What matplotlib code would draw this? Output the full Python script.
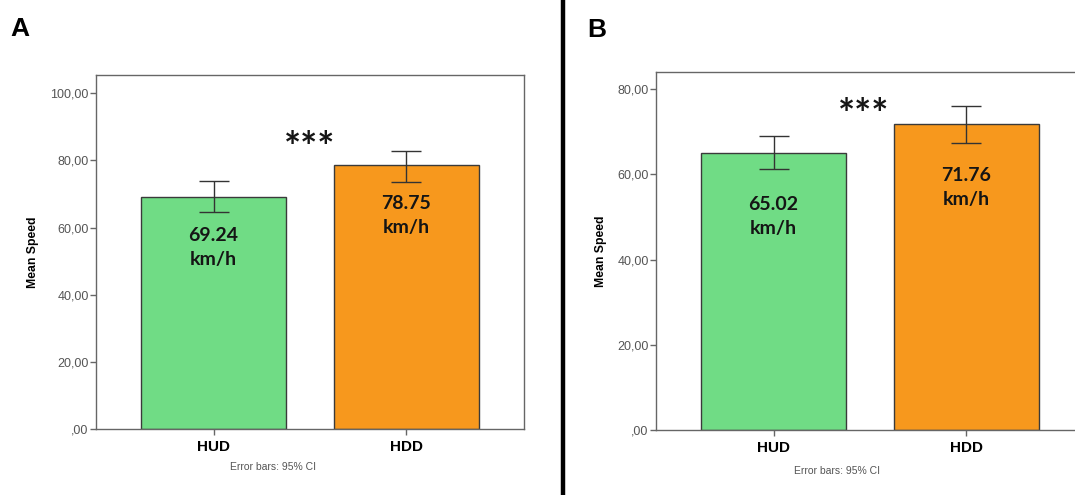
import numpy as np
import matplotlib.pyplot as plt
from matplotlib.ticker import FuncFormatter
from matplotlib.lines import Line2D

# Data
groups = ["HUD", "HDD"]
means_a = [69.24, 78.75]
ci_low_a = [64.7, 73.6]
ci_high_a = [73.9, 82.8]
means_b = [65.02, 71.76]
ci_low_b = [61.2, 67.3]
ci_high_b = [68.9, 76.1]
bar_colors = ["#70DC85", "#F7981D"]

def fmt(v, pos):
    s = f"{v:.2f}".replace(".", ",")
    if s.startswith("0"):
        s = s[1:]
    return s

def panel(fig, rect, means, lo, hi, ylim, yticks, star_xy, txt_off, lab_x, note_xy):
    ax = fig.add_axes(rect)
    x = np.arange(len(groups))
    means = np.array(means)
    yerr = [means - np.array(lo), np.array(hi) - means]
    ax.bar(x, means, width=0.75, color=bar_colors, edgecolor="#3a3a3a", linewidth=1.0, zorder=2)
    ax.errorbar(x, means, yerr=yerr, fmt="none", ecolor="#333333", elinewidth=1.0,
                capsize=10.5, capthick=1.0, zorder=3)
    for xi, m in zip(x, means):
        ax.annotate(f"{m:.2f}\nkm/h", (xi, m), xytext=(0, txt_off), textcoords="offset points",
                    ha="center", va="top", fontsize=14, fontweight="bold",
                    family="Lato", color="#151515", linespacing=1.5)
    ax.text(star_xy[0], star_xy[1], "***", ha="center", va="center", fontsize=29,
            fontweight="bold", family="Lato", color="#151515")
    ax.set_xlim(-0.61, 1.61)
    ax.set_ylim(*ylim)
    ax.set_yticks(yticks)
    ax.yaxis.set_major_formatter(FuncFormatter(fmt))
    ax.set_xticks(x)
    ax.set_xticklabels(groups, fontsize=11, fontweight="bold", family="Liberation Sans")
    ax.tick_params(axis="y", length=4.3, width=1, color="#666666", pad=1,
                   labelsize=9, labelcolor="#555555")
    ax.tick_params(axis="x", length=4, width=1, color="#666666", pad=4)
    for t in ax.get_yticklabels():
        t.set_family("Liberation Sans")
    for sp in ax.spines.values():
        sp.set_color("#666666")
        sp.set_linewidth(1.0)
    ax.set_ylabel("Mean Speed", fontsize=8.8, fontweight="bold", family="Liberation Sans")
    ax.yaxis.set_label_coords(lab_x, 0.5)
    ax.text(note_xy[0], note_xy[1], "Error bars: 95% CI", transform=ax.get_xaxis_transform(),
            ha="center", va="center", fontsize=7.5, color="#555555", family="Liberation Sans")
    return ax

fig = plt.figure(figsize=(10.75, 4.95), dpi=100)

panel(fig, [0.0893, 0.1333, 0.398, 0.715], means_a, ci_low_a, ci_high_a,
      (0, 105.4), [0, 20, 40, 60, 80, 100], (0.496, 83.2), -22, -0.133, (0.306, -0.107))
panel(fig, [0.6102, 0.1313, 0.398, 0.7232], means_b, ci_low_b, ci_high_b,
      (0, 84.0), [0, 20, 40, 60, 80], (0.467, 73.6), -31, -0.114, (0.329, -0.115))

fig.text(10 / 1075, 1 - 29 / 495, "A", fontsize=19, fontweight="bold", family="Liberation Sans",
         va="center", ha="left")
fig.text(587 / 1075, 1 - 30 / 495, "B", fontsize=19, fontweight="bold", family="Liberation Sans",
         va="center", ha="left")

# divider line between panels
fig.add_artist(Line2D([563 / 1075, 563 / 1075], [0, 1], color="black", linewidth=3.2))

fig.savefig("out.png", dpi=100)
